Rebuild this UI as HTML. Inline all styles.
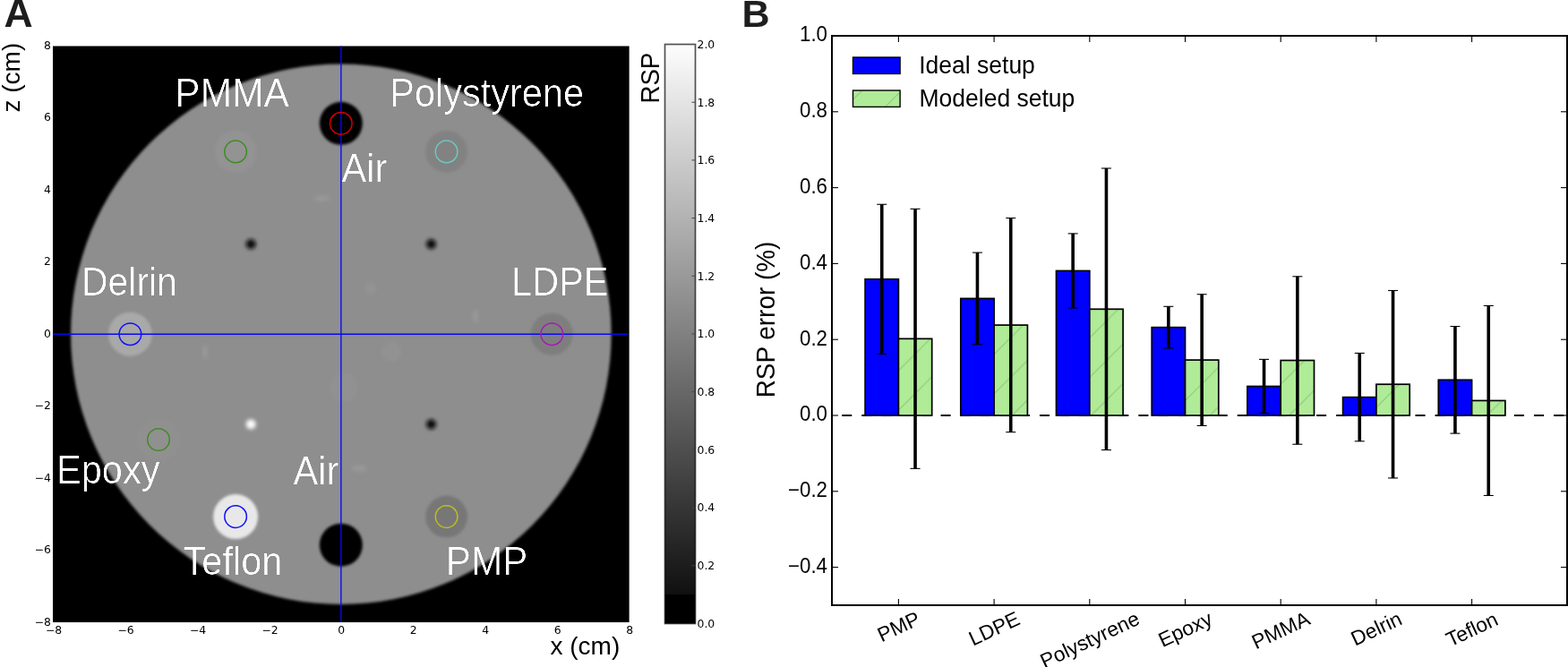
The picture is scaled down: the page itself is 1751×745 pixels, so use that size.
<!DOCTYPE html><html><head><meta charset="utf-8"><title>RSP figure</title><style>
html,body{margin:0;padding:0;background:#fff;}body{width:1751px;height:745px;overflow:hidden;}svg{display:block;}
.lib{font-family:"Liberation Sans", Arial, Helvetica, sans-serif;}.dv{font-family:"DejaVu Sans", "Liberation Sans", sans-serif;}
</style></head><body>
<svg width="1751" height="745" viewBox="0 0 1751 745">
<rect x="0" y="0" width="1751" height="745" fill="#fff"/>
<defs>
<clipPath id="imgclip"><rect x="58.9" y="51.3" width="643.9" height="643.9"/></clipPath>
<filter id="b1" x="-10%" y="-10%" width="120%" height="120%"><feGaussianBlur stdDeviation="1.6"/></filter>
<filter id="b2" x="-50%" y="-50%" width="200%" height="200%"><feGaussianBlur stdDeviation="1.8"/></filter>
<filter id="b3" x="-50%" y="-50%" width="200%" height="200%"><feGaussianBlur stdDeviation="4"/></filter>
<filter id="b4" x="-80%" y="-80%" width="260%" height="260%"><feGaussianBlur stdDeviation="2.1"/></filter>
<pattern id="hatch" patternUnits="userSpaceOnUse" width="44.2" height="44.2"><rect width="44.2" height="44.2" fill="#b0eb98"/><path d="M-5,7.9 L7.9,-5" stroke="#8cc67a" stroke-width="1"/><path d="M-5,52.1 L52.1,-5" stroke="#8cc67a" stroke-width="1"/><path d="M-5,96.3 L96.3,-5" stroke="#8cc67a" stroke-width="1"/></pattern>
<filter id="thin" x="-5%" y="-10%" width="110%" height="120%"><feGaussianBlur stdDeviation="0.7"/><feComponentTransfer><feFuncA type="linear" slope="2.27" intercept="-1.23"/></feComponentTransfer></filter>
<linearGradient id="cbar" x1="0" y1="1" x2="0" y2="0">
<stop offset="0.0000" stop-color="rgb(0,0,0)"/>
<stop offset="0.0500" stop-color="rgb(0,0,0)"/>
<stop offset="0.0500" stop-color="rgb(16,16,16)"/>
<stop offset="1.0000" stop-color="rgb(253,253,253)"/>
</linearGradient>
</defs>
<text class="lib" x="4.5" y="29.8" font-size="44.5" font-weight="bold" fill="#1e1e1e">A</text>
<g clip-path="url(#imgclip)">
<rect x="58.9" y="51.3" width="643.9" height="643.9" fill="#000"/>
<circle cx="380.85" cy="373.25" r="301.828" fill="#8e8e8e" filter="url(#b1)"/>
<circle cx="380.8" cy="137.8" r="24" fill="#000" filter="url(#b2)"/>
<circle cx="498.6" cy="169.4" r="23.5" fill="#828282" filter="url(#b2)"/>
<circle cx="263.1" cy="169.4" r="23.5" fill="#939393" filter="url(#b2)"/>
<circle cx="145.4" cy="373.2" r="24.5" fill="#a9a9a9" filter="url(#b2)"/>
<circle cx="177.0" cy="491.0" r="23.5" fill="#909090" filter="url(#b2)"/>
<circle cx="263.1" cy="577.1" r="25" fill="#e8e8e8" filter="url(#b2)"/>
<circle cx="380.8" cy="608.7" r="24" fill="#000" filter="url(#b2)"/>
<circle cx="498.6" cy="577.1" r="23.5" fill="#777777" filter="url(#b2)"/>
<circle cx="616.3" cy="373.2" r="23.5" fill="#7e7e7e" filter="url(#b2)"/>
<circle cx="280.2" cy="272.6" r="5.6" fill="#0c0c0c" filter="url(#b4)"/>
<circle cx="481.5" cy="272.6" r="5.6" fill="#0c0c0c" filter="url(#b4)"/>
<circle cx="481.5" cy="473.9" r="5.6" fill="#0c0c0c" filter="url(#b4)"/>
<circle cx="280.2" cy="473.9" r="5.6" fill="#fafafa" filter="url(#b4)"/>
<ellipse cx="359.5" cy="221.7" rx="9" ry="3" fill="#a0a0a0" opacity="0.6" filter="url(#b4)"/>
<ellipse cx="414" cy="322" rx="6" ry="6" fill="#9a9a9a" opacity="0.5" filter="url(#b4)"/>
<ellipse cx="531" cy="353" rx="3" ry="8" fill="#a0a0a0" opacity="0.6" filter="url(#b4)"/>
<ellipse cx="229" cy="393" rx="3" ry="8" fill="#a0a0a0" opacity="0.6" filter="url(#b4)"/>
<ellipse cx="437" cy="393" rx="11" ry="11" fill="#969696" opacity="0.5" filter="url(#b4)"/>
<ellipse cx="384" cy="433" rx="16" ry="16" fill="#959595" opacity="0.45" filter="url(#b4)"/>
<ellipse cx="401" cy="523" rx="9" ry="3.5" fill="#a0a0a0" opacity="0.6" filter="url(#b4)"/>
<line x1="380.85" y1="51.3" x2="380.85" y2="695.2" stroke="#0808f0" stroke-width="1.35"/>
<line x1="58.9" y1="373.25" x2="701.3" y2="373.25" stroke="#0808f0" stroke-width="1.35"/>
<circle cx="498.6" cy="169.4" r="12.3" fill="none" stroke="#6cc8c0" stroke-width="1.5"/>
<circle cx="263.1" cy="169.4" r="12.3" fill="none" stroke="#3f8c22" stroke-width="1.5"/>
<circle cx="145.4" cy="373.2" r="12.3" fill="none" stroke="#1010ff" stroke-width="1.5"/>
<circle cx="177.0" cy="491.0" r="12.3" fill="none" stroke="#3f8c22" stroke-width="1.5"/>
<circle cx="263.1" cy="577.1" r="12.3" fill="none" stroke="#1010ff" stroke-width="1.5"/>
<circle cx="498.6" cy="577.1" r="12.3" fill="none" stroke="#bcbc22" stroke-width="1.5"/>
<circle cx="616.3" cy="373.2" r="12.3" fill="none" stroke="#a81aba" stroke-width="1.5"/>
<circle cx="380.8" cy="137.8" r="12.3" fill="none" stroke="#d40000" stroke-width="1.5"/>
<text class="lib" font-size="41.5" fill="#fff" filter="url(#thin)" transform="translate(195.30,119.30) scale(1.025,1.08)">PMMA</text>
<text class="lib" font-size="41.5" fill="#fff" filter="url(#thin)" transform="translate(435.20,119.10) scale(1,1.08)">Polystyrene</text>
<text class="lib" font-size="41.5" fill="#fff" filter="url(#thin)" transform="translate(381.62,203.00) scale(1,1.08)">Air</text>
<text class="lib" font-size="41.5" fill="#fff" filter="url(#thin)" transform="translate(91.10,329.90) scale(0.985,1.08)">Delrin</text>
<text class="lib" font-size="41.5" fill="#fff" filter="url(#thin)" transform="translate(571.10,329.90) scale(1,1.08)">LDPE</text>
<text class="lib" font-size="41.5" fill="#fff" filter="url(#thin)" transform="translate(63.10,540.30) scale(1,1.08)">Epoxy</text>
<text class="lib" font-size="41.5" fill="#fff" filter="url(#thin)" transform="translate(327.52,540.70) scale(1,1.08)">Air</text>
<text class="lib" font-size="41.5" fill="#fff" filter="url(#thin)" transform="translate(204.57,642.40) scale(1,1.08)">Teflon</text>
<text class="lib" font-size="41.5" fill="#fff" filter="url(#thin)" transform="translate(497.80,642.30) scale(1.02,1.08)">PMP</text>
</g>
<text class="dv" font-size="12.4" x="56.9" y="54.90" text-anchor="end">8</text>
<text class="dv" font-size="12.4" x="56.9" y="135.39" text-anchor="end">6</text>
<text class="dv" font-size="12.4" x="56.9" y="215.87" text-anchor="end">4</text>
<text class="dv" font-size="12.4" x="56.9" y="296.36" text-anchor="end">2</text>
<text class="dv" font-size="12.4" x="56.9" y="376.85" text-anchor="end">0</text>
<text class="dv" font-size="12.4" x="56.9" y="457.34" text-anchor="end">−2</text>
<text class="dv" font-size="12.4" x="56.9" y="537.82" text-anchor="end">−4</text>
<text class="dv" font-size="12.4" x="56.9" y="618.31" text-anchor="end">−6</text>
<text class="dv" font-size="12.4" x="56.9" y="698.80" text-anchor="end">−8</text>
<text class="dv" font-size="12.4" x="60.10" y="708.3" text-anchor="middle">−8</text>
<text class="dv" font-size="12.4" x="140.59" y="708.3" text-anchor="middle">−6</text>
<text class="dv" font-size="12.4" x="221.07" y="708.3" text-anchor="middle">−4</text>
<text class="dv" font-size="12.4" x="301.56" y="708.3" text-anchor="middle">−2</text>
<text class="dv" font-size="12.4" x="381.15" y="708.3" text-anchor="middle">0</text>
<text class="dv" font-size="12.4" x="461.64" y="708.3" text-anchor="middle">2</text>
<text class="dv" font-size="12.4" x="542.12" y="708.3" text-anchor="middle">4</text>
<text class="dv" font-size="12.4" x="622.61" y="708.3" text-anchor="middle">6</text>
<text class="dv" font-size="12.4" x="703.10" y="708.3" text-anchor="middle">8</text>
<text class="lib" font-size="28" x="614.5" y="731" >x (cm)</text>
<text class="lib" font-size="28" transform="translate(22,125.5) rotate(-90)">z (cm)</text>
<rect x="742.5" y="49.5" width="34" height="647" fill="url(#cbar)" stroke="#000" stroke-opacity="0.68" stroke-width="1.7"/>
<text class="dv" font-size="12.4" x="778.5" y="53.80">2.0</text>
<line x1="772.5" y1="114.20" x2="776.5" y2="114.20" stroke="#444" stroke-width="1"/>
<text class="dv" font-size="12.4" x="778.5" y="118.50">1.8</text>
<line x1="772.5" y1="178.90" x2="776.5" y2="178.90" stroke="#444" stroke-width="1"/>
<text class="dv" font-size="12.4" x="778.5" y="183.20">1.6</text>
<line x1="772.5" y1="243.60" x2="776.5" y2="243.60" stroke="#444" stroke-width="1"/>
<text class="dv" font-size="12.4" x="778.5" y="247.90">1.4</text>
<line x1="772.5" y1="308.30" x2="776.5" y2="308.30" stroke="#444" stroke-width="1"/>
<text class="dv" font-size="12.4" x="778.5" y="312.60">1.2</text>
<line x1="772.5" y1="373.00" x2="776.5" y2="373.00" stroke="#444" stroke-width="1"/>
<text class="dv" font-size="12.4" x="778.5" y="377.30">1.0</text>
<line x1="772.5" y1="437.70" x2="776.5" y2="437.70" stroke="#444" stroke-width="1"/>
<text class="dv" font-size="12.4" x="778.5" y="442.00">0.8</text>
<line x1="772.5" y1="502.40" x2="776.5" y2="502.40" stroke="#444" stroke-width="1"/>
<text class="dv" font-size="12.4" x="778.5" y="506.70">0.6</text>
<line x1="772.5" y1="567.10" x2="776.5" y2="567.10" stroke="#444" stroke-width="1"/>
<text class="dv" font-size="12.4" x="778.5" y="571.40">0.4</text>
<line x1="772.5" y1="631.80" x2="776.5" y2="631.80" stroke="#444" stroke-width="1"/>
<text class="dv" font-size="12.4" x="778.5" y="636.10">0.2</text>
<text class="dv" font-size="12.4" x="778.5" y="700.80">0.0</text>
<text class="lib" font-size="28.4" transform="translate(736,115.6) rotate(-90) scale(0.975,1.06)">RSP</text>
<text class="lib" x="828.5" y="29.5" font-size="43" font-weight="bold" fill="#1e1e1e">B</text>
<line x1="929" y1="464" x2="1750" y2="464" stroke="#000" stroke-width="2" stroke-dasharray="11.04 11.04" stroke-dashoffset="10.9"/>
<rect x="966.10" y="311.78" width="37.30" height="152.22" fill="#0000ff" stroke="#000" stroke-width="1.7"/>
<rect x="1003.40" y="378.35" width="37.30" height="85.65" fill="url(#hatch)" stroke="#000" stroke-width="1.7"/>
<rect x="1072.80" y="333.41" width="37.30" height="130.59" fill="#0000ff" stroke="#000" stroke-width="1.7"/>
<rect x="1110.10" y="363.09" width="37.30" height="100.91" fill="url(#hatch)" stroke="#000" stroke-width="1.7"/>
<rect x="1179.50" y="302.46" width="37.30" height="161.54" fill="#0000ff" stroke="#000" stroke-width="1.7"/>
<rect x="1216.80" y="345.28" width="37.30" height="118.72" fill="url(#hatch)" stroke="#000" stroke-width="1.7"/>
<rect x="1286.20" y="365.63" width="37.30" height="98.37" fill="#0000ff" stroke="#000" stroke-width="1.7"/>
<rect x="1323.50" y="402.10" width="37.30" height="61.90" fill="url(#hatch)" stroke="#000" stroke-width="1.7"/>
<rect x="1392.90" y="431.48" width="37.30" height="32.52" fill="#0000ff" stroke="#000" stroke-width="1.7"/>
<rect x="1430.20" y="402.52" width="37.30" height="61.48" fill="url(#hatch)" stroke="#000" stroke-width="1.7"/>
<rect x="1499.60" y="443.65" width="37.30" height="20.35" fill="#0000ff" stroke="#000" stroke-width="1.7"/>
<rect x="1536.90" y="429.23" width="37.30" height="34.77" fill="url(#hatch)" stroke="#000" stroke-width="1.7"/>
<rect x="1606.30" y="424.31" width="37.30" height="39.69" fill="#0000ff" stroke="#000" stroke-width="1.7"/>
<rect x="1643.60" y="447.46" width="37.30" height="16.54" fill="url(#hatch)" stroke="#000" stroke-width="1.7"/>
<line x1="984.75" y1="228.26" x2="984.75" y2="395.31" stroke="#000" stroke-width="3.6"/>
<line x1="979.25" y1="228.26" x2="990.25" y2="228.26" stroke="#000" stroke-width="1.1"/>
<line x1="979.25" y1="395.31" x2="990.25" y2="395.31" stroke="#000" stroke-width="1.1"/>
<line x1="1022.05" y1="233.34" x2="1022.05" y2="523.36" stroke="#000" stroke-width="3.6"/>
<line x1="1016.55" y1="233.34" x2="1027.55" y2="233.34" stroke="#000" stroke-width="1.1"/>
<line x1="1016.55" y1="523.36" x2="1027.55" y2="523.36" stroke="#000" stroke-width="1.1"/>
<line x1="1091.45" y1="282.10" x2="1091.45" y2="384.71" stroke="#000" stroke-width="3.6"/>
<line x1="1085.95" y1="282.10" x2="1096.95" y2="282.10" stroke="#000" stroke-width="1.1"/>
<line x1="1085.95" y1="384.71" x2="1096.95" y2="384.71" stroke="#000" stroke-width="1.1"/>
<line x1="1128.75" y1="243.52" x2="1128.75" y2="482.66" stroke="#000" stroke-width="3.6"/>
<line x1="1123.25" y1="243.52" x2="1134.25" y2="243.52" stroke="#000" stroke-width="1.1"/>
<line x1="1123.25" y1="482.66" x2="1134.25" y2="482.66" stroke="#000" stroke-width="1.1"/>
<line x1="1198.15" y1="260.90" x2="1198.15" y2="344.01" stroke="#000" stroke-width="3.6"/>
<line x1="1192.65" y1="260.90" x2="1203.65" y2="260.90" stroke="#000" stroke-width="1.1"/>
<line x1="1192.65" y1="344.01" x2="1203.65" y2="344.01" stroke="#000" stroke-width="1.1"/>
<line x1="1235.45" y1="187.98" x2="1235.45" y2="502.58" stroke="#000" stroke-width="3.6"/>
<line x1="1229.95" y1="187.98" x2="1240.95" y2="187.98" stroke="#000" stroke-width="1.1"/>
<line x1="1229.95" y1="502.58" x2="1240.95" y2="502.58" stroke="#000" stroke-width="1.1"/>
<line x1="1304.85" y1="342.31" x2="1304.85" y2="388.95" stroke="#000" stroke-width="3.6"/>
<line x1="1299.35" y1="342.31" x2="1310.35" y2="342.31" stroke="#000" stroke-width="1.1"/>
<line x1="1299.35" y1="388.95" x2="1310.35" y2="388.95" stroke="#000" stroke-width="1.1"/>
<line x1="1342.15" y1="328.74" x2="1342.15" y2="475.45" stroke="#000" stroke-width="3.6"/>
<line x1="1336.65" y1="328.74" x2="1347.65" y2="328.74" stroke="#000" stroke-width="1.1"/>
<line x1="1336.65" y1="475.45" x2="1347.65" y2="475.45" stroke="#000" stroke-width="1.1"/>
<line x1="1411.55" y1="401.38" x2="1411.55" y2="461.58" stroke="#000" stroke-width="3.6"/>
<line x1="1406.05" y1="401.38" x2="1417.05" y2="401.38" stroke="#000" stroke-width="1.1"/>
<line x1="1406.05" y1="461.58" x2="1417.05" y2="461.58" stroke="#000" stroke-width="1.1"/>
<line x1="1448.85" y1="308.82" x2="1448.85" y2="496.22" stroke="#000" stroke-width="3.6"/>
<line x1="1443.35" y1="308.82" x2="1454.35" y2="308.82" stroke="#000" stroke-width="1.1"/>
<line x1="1443.35" y1="496.22" x2="1454.35" y2="496.22" stroke="#000" stroke-width="1.1"/>
<line x1="1518.25" y1="394.46" x2="1518.25" y2="492.83" stroke="#000" stroke-width="3.6"/>
<line x1="1512.75" y1="394.46" x2="1523.75" y2="394.46" stroke="#000" stroke-width="1.1"/>
<line x1="1512.75" y1="492.83" x2="1523.75" y2="492.83" stroke="#000" stroke-width="1.1"/>
<line x1="1555.55" y1="324.50" x2="1555.55" y2="533.96" stroke="#000" stroke-width="3.6"/>
<line x1="1550.05" y1="324.50" x2="1561.05" y2="324.50" stroke="#000" stroke-width="1.1"/>
<line x1="1550.05" y1="533.96" x2="1561.05" y2="533.96" stroke="#000" stroke-width="1.1"/>
<line x1="1624.95" y1="364.53" x2="1624.95" y2="484.10" stroke="#000" stroke-width="3.6"/>
<line x1="1619.45" y1="364.53" x2="1630.45" y2="364.53" stroke="#000" stroke-width="1.1"/>
<line x1="1619.45" y1="484.10" x2="1630.45" y2="484.10" stroke="#000" stroke-width="1.1"/>
<line x1="1662.25" y1="341.46" x2="1662.25" y2="553.46" stroke="#000" stroke-width="3.6"/>
<line x1="1656.75" y1="341.46" x2="1667.75" y2="341.46" stroke="#000" stroke-width="1.1"/>
<line x1="1656.75" y1="553.46" x2="1667.75" y2="553.46" stroke="#000" stroke-width="1.1"/>
<rect x="929" y="40" width="821" height="636" fill="none" stroke="#000" stroke-width="2"/>
<text class="lib" font-size="22.3" text-anchor="end" transform="translate(924,46.30) scale(1,1.04)">1.0</text>
<line x1="929" y1="124.80" x2="936" y2="124.80" stroke="#000" stroke-width="1.1"/>
<line x1="1743" y1="124.80" x2="1750" y2="124.80" stroke="#000" stroke-width="1.1"/>
<text class="lib" font-size="22.3" text-anchor="end" transform="translate(924,131.10) scale(1,1.04)">0.8</text>
<line x1="929" y1="209.60" x2="936" y2="209.60" stroke="#000" stroke-width="1.1"/>
<line x1="1743" y1="209.60" x2="1750" y2="209.60" stroke="#000" stroke-width="1.1"/>
<text class="lib" font-size="22.3" text-anchor="end" transform="translate(924,215.90) scale(1,1.04)">0.6</text>
<line x1="929" y1="294.40" x2="936" y2="294.40" stroke="#000" stroke-width="1.1"/>
<line x1="1743" y1="294.40" x2="1750" y2="294.40" stroke="#000" stroke-width="1.1"/>
<text class="lib" font-size="22.3" text-anchor="end" transform="translate(924,300.70) scale(1,1.04)">0.4</text>
<line x1="929" y1="379.20" x2="936" y2="379.20" stroke="#000" stroke-width="1.1"/>
<line x1="1743" y1="379.20" x2="1750" y2="379.20" stroke="#000" stroke-width="1.1"/>
<text class="lib" font-size="22.3" text-anchor="end" transform="translate(924,385.50) scale(1,1.04)">0.2</text>
<line x1="929" y1="464.00" x2="936" y2="464.00" stroke="#000" stroke-width="1.1"/>
<line x1="1743" y1="464.00" x2="1750" y2="464.00" stroke="#000" stroke-width="1.1"/>
<text class="lib" font-size="22.3" text-anchor="end" transform="translate(924,470.30) scale(1,1.04)">0.0</text>
<line x1="929" y1="548.80" x2="936" y2="548.80" stroke="#000" stroke-width="1.1"/>
<line x1="1743" y1="548.80" x2="1750" y2="548.80" stroke="#000" stroke-width="1.1"/>
<text class="lib" font-size="22.3" text-anchor="end" transform="translate(924,555.10) scale(1,1.04)">−0.2</text>
<line x1="929" y1="633.60" x2="936" y2="633.60" stroke="#000" stroke-width="1.1"/>
<line x1="1743" y1="633.60" x2="1750" y2="633.60" stroke="#000" stroke-width="1.1"/>
<text class="lib" font-size="22.3" text-anchor="end" transform="translate(924,639.90) scale(1,1.04)">−0.4</text>
<line x1="1003.40" y1="676" x2="1003.40" y2="669" stroke="#000" stroke-width="1.1"/>
<line x1="1003.40" y1="40" x2="1003.40" y2="47" stroke="#000" stroke-width="1.1"/>
<line x1="1110.10" y1="676" x2="1110.10" y2="669" stroke="#000" stroke-width="1.1"/>
<line x1="1110.10" y1="40" x2="1110.10" y2="47" stroke="#000" stroke-width="1.1"/>
<line x1="1216.80" y1="676" x2="1216.80" y2="669" stroke="#000" stroke-width="1.1"/>
<line x1="1216.80" y1="40" x2="1216.80" y2="47" stroke="#000" stroke-width="1.1"/>
<line x1="1323.50" y1="676" x2="1323.50" y2="669" stroke="#000" stroke-width="1.1"/>
<line x1="1323.50" y1="40" x2="1323.50" y2="47" stroke="#000" stroke-width="1.1"/>
<line x1="1430.20" y1="676" x2="1430.20" y2="669" stroke="#000" stroke-width="1.1"/>
<line x1="1430.20" y1="40" x2="1430.20" y2="47" stroke="#000" stroke-width="1.1"/>
<line x1="1536.90" y1="676" x2="1536.90" y2="669" stroke="#000" stroke-width="1.1"/>
<line x1="1536.90" y1="40" x2="1536.90" y2="47" stroke="#000" stroke-width="1.1"/>
<line x1="1643.60" y1="676" x2="1643.60" y2="669" stroke="#000" stroke-width="1.1"/>
<line x1="1643.60" y1="40" x2="1643.60" y2="47" stroke="#000" stroke-width="1.1"/>
<text class="lib" font-size="22.8" text-anchor="middle" transform="translate(1003.40,699.72) rotate(-25)" y="7.98">PMP</text>
<text class="lib" font-size="22.8" text-anchor="middle" transform="translate(1110.10,701.87) rotate(-25)" y="7.98">LDPE</text>
<text class="lib" font-size="22.8" text-anchor="middle" transform="translate(1216.80,714.45) rotate(-25)" y="7.98">Polystyrene</text>
<text class="lib" font-size="22.8" text-anchor="middle" transform="translate(1323.50,702.67) rotate(-25)" y="7.98">Epoxy</text>
<text class="lib" font-size="22.8" text-anchor="middle" transform="translate(1430.20,703.74) rotate(-25)" y="7.98">PMMA</text>
<text class="lib" font-size="22.8" text-anchor="middle" transform="translate(1536.90,701.87) rotate(-25)" y="7.98">Delrin</text>
<text class="lib" font-size="22.8" text-anchor="middle" transform="translate(1643.60,702.67) rotate(-25)" y="7.98">Teflon</text>
<text class="lib" font-size="27.9" text-anchor="middle" transform="translate(865,357) rotate(-90) scale(1,1.04)">RSP error (%)</text>
<rect x="952.5" y="64" width="52.6" height="18.4" fill="#0000ff" stroke="#000" stroke-width="1.4"/>
<rect x="952.5" y="101" width="52.6" height="18.4" fill="url(#hatch)" stroke="#000" stroke-width="1.4"/>
<text class="lib" font-size="26.5" transform="translate(1026.25,81.8) scale(1,1.03)">Ideal setup</text>
<text class="lib" font-size="26.5" transform="translate(1026.53,118.9) scale(1,1.03)">Modeled setup</text>
</svg></body></html>
